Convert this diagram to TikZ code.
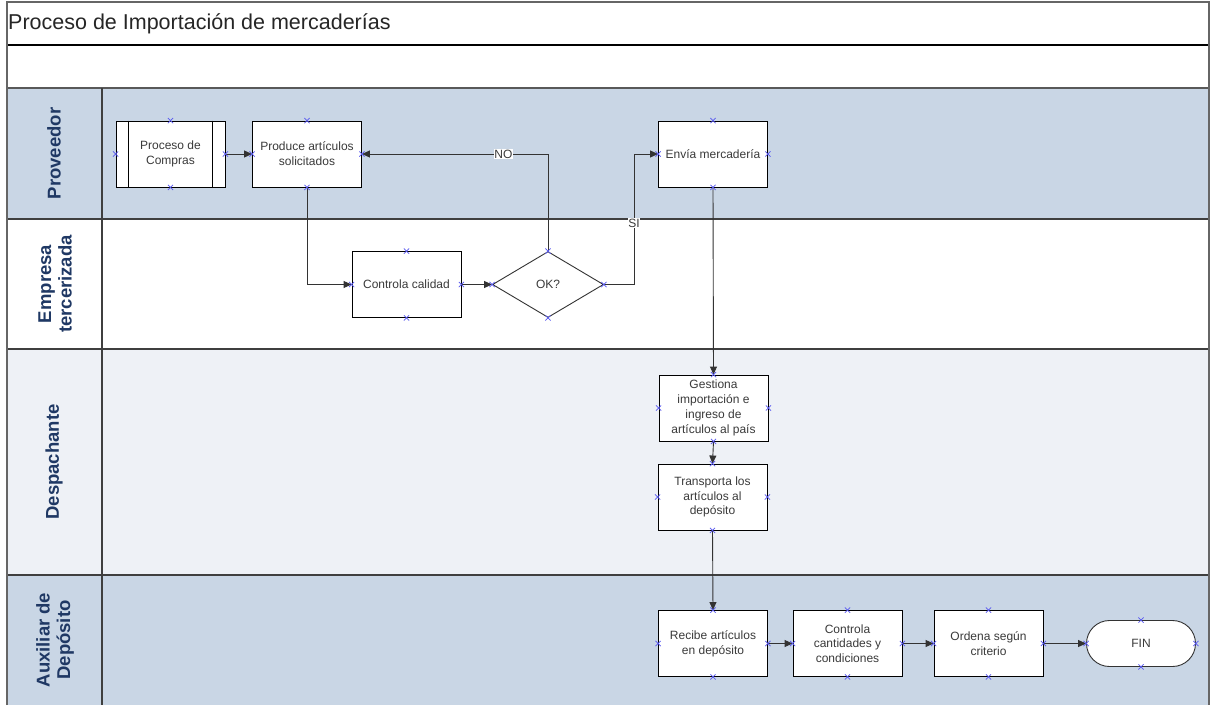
\documentclass[tikz,border=0pt]{standalone}
\usepackage{fontspec}
\setmainfont{Liberation Sans}
\usetikzlibrary{arrows.meta,shapes.geometric,calc}
\definecolor{laneblue}{HTML}{C9D6E5}
\definecolor{lanepale}{HTML}{EEF1F6}
\definecolor{lanetext}{HTML}{1F3864}
\definecolor{framegrey}{HTML}{3F3F3F}
\definecolor{boxtext}{HTML}{3A3A3A}
\definecolor{cptblue}{HTML}{5858F0}
\begin{document}
\begin{tikzpicture}[x=1pt,y=-1pt,
  task/.style={draw=black, line width=0.9pt, fill=white, minimum width=109pt,
    minimum height=66pt, inner sep=2pt, align=center, text=boxtext,
    font=\fontsize{12}{14.8}\selectfont},
  decision/.style={diamond, draw=black!80, line width=0.9pt, fill=white,
    minimum width=111pt, minimum height=66pt, inner sep=0pt, text=boxtext,
    font=\fontsize{12}{14.8}\selectfont},
  terminal/.style={draw=black!80, line width=0.9pt, fill=white, rounded corners=23pt,
    minimum width=109pt, minimum height=46pt, text=boxtext,
    font=\fontsize{12}{14.8}\selectfont},
  lanelabel/.style={rotate=90, align=center, text=lanetext,
    font=\fontsize{18.5}{20.5}\selectfont\bfseries},
  flow/.style={draw=black!80, line width=0.9pt, -{Triangle[length=8pt,width=7pt]}},
  flowlabel/.style={fill=white, inner sep=0.5pt, text=boxtext,
    font=\fontsize{12}{14}\selectfont},
  cross/.style={draw=cptblue, line width=0.7pt},
  laneline/.style={draw=framegrey, line width=1.2pt}]

\useasboundingbox (0,0) rectangle (1210,705);

% lane backgrounds
\fill[white] (7,2) rectangle (1209,88);
\fill[laneblue] (7,88) rectangle (1209,219);
\fill[white] (7,219) rectangle (1209,349);
\fill[lanepale] (7,349) rectangle (1209,575);
\fill[laneblue] (7,575) rectangle (1209,705);

% frame and lane separators
\draw[draw=black, line width=1.2pt] (7,45) -- (1209,45);
\draw[draw=black!65, line width=2pt] (7,88) -- (1209,88);
\draw[laneline] (7,219) -- (1209,219);
\draw[laneline] (7,349) -- (1209,349);
\draw[laneline] (7,575) -- (1209,575);
\draw[laneline] (102,88) -- (102,705);
\draw[draw=black!60, line width=1.4pt] (7,705) -- (7,2) -- (1209,2) -- (1209,705);

% title
\node[anchor=west, inner sep=0pt, text=black!85, font=\fontsize{21.5}{25}\selectfont] (title) at (8,24)
  {Proceso de Importación de mercaderías};

% lane names
\node[lanelabel] (lprov) at (54,153.5) {Proveedor};
\node[lanelabel] (lemp) at (55,284) {Empresa\\tercerizada};
\node[lanelabel] (ldesp) at (54,462) {Despachante};
\node[lanelabel] (laux) at (55,640) {Auxiliar de\\Depósito};

% activities
\node[task] (pc) at (170.5,154) {Proceso de\\Compras};
\draw[draw=black, line width=0.9pt] ([xshift=13pt]pc.north west) -- ([xshift=13pt]pc.south west);
\draw[draw=black, line width=0.9pt] ([xshift=-13pt]pc.north east) -- ([xshift=-13pt]pc.south east);
\node[task] (prod) at (307,154) {Produce artículos\\solicitados};
\node[task] (env) at (713,154) {Envía mercadería};
\node[task] (cc) at (406.5,284.5) {Controla calidad};
\node[decision] (ok) at (548,284.5) {OK?};
\node[task] (gest) at (713.5,408) {Gestiona\\importación e\\ingreso de\\artículos al país};
\node[task] (trans) at (712.5,497) {Transporta los\\artículos al\\depósito};
\node[task] (rec) at (713,643.5) {Recibe artículos\\en depósito};
\node[task] (cant) at (847.5,643.5) {Controla\\cantidades y\\condiciones};
\node[task] (ord) at (988.5,643.5) {Ordena según\\criterio};
\node[terminal] (fin) at (1141,643.5) {FIN};

% connectors
\coordinate (sibend) at (634,284.5);
\draw[flow] (pc.east) -- (prod.west);
\draw[flow] (prod.south) |- (cc.west);
\draw[flow] (cc.east) -- (ok.west);
\draw[flow] (ok.north) |- node[flowlabel, pos=0.62] (no) {NO} (prod.east);
\draw[flow] (ok.east) -- (sibend) |- node[flowlabel, pos=0.235] (si) {SI} (env.west);
\draw[flow] (env.south) -- (gest.north);
\draw[flow] (gest.south) -- (trans.north);
\draw[flow] (trans.south) -- (rec.north);
\draw[flow] (rec.east) -- (cant.west);
\draw[flow] (cant.east) -- (ord.west);
\draw[flow] (ord.east) -- (fin.west);

% connection points
\foreach \n in {pc,prod,env,cc,ok,gest,trans,rec,cant,ord,fin}
  \foreach \a in {north,south,east,west}
    \draw[cross] (\n.\a) +(-2.6,-2.6) -- +(2.6,2.6) +(-2.6,2.6) -- +(2.6,-2.6);

\end{tikzpicture}
\end{document}
